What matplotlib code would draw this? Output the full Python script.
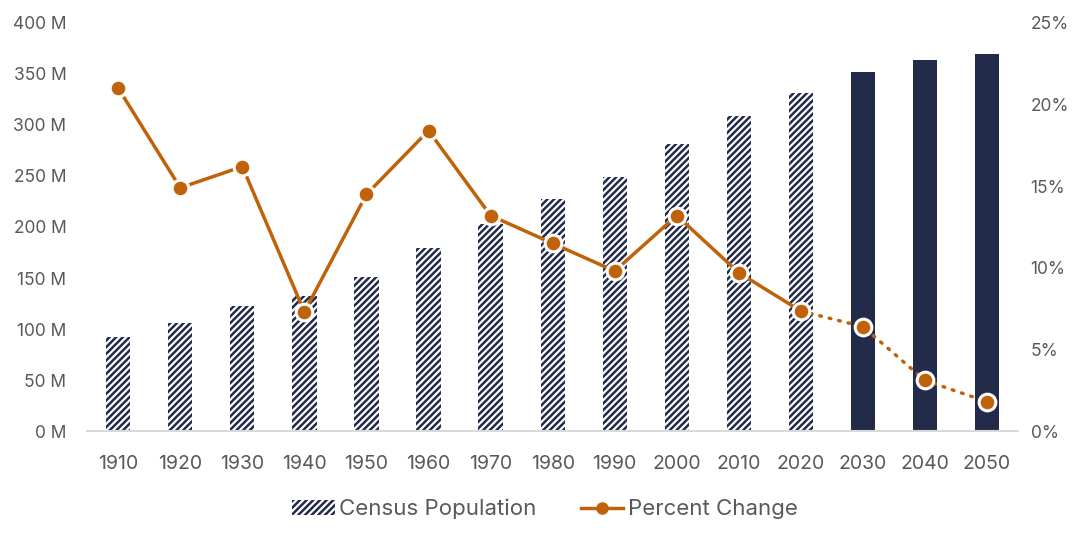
import matplotlib
matplotlib.use("Agg")
import matplotlib.pyplot as plt
from matplotlib.patches import Patch
from matplotlib.lines import Line2D
from matplotlib.ticker import FuncFormatter

years = ["1910", "1920", "1930", "1940", "1950", "1960", "1970", "1980",
         "1990", "2000", "2010", "2020", "2030", "2040", "2050"]
population_m = [92, 106, 123, 132, 151, 179, 203, 227, 249, 281, 309, 331, 352, 364, 370]
percent_change = [21.0, 14.9, 16.2, 7.3, 14.5, 18.4, 13.2, 11.5, 9.8, 13.2, 9.7, 7.35, 6.4, 3.1, 1.8]
n_census = 12  # first 12 are census, rest projections

navy = "#232B4A"
orange = "#C0620A"
grey = "#595959"

plt.rcParams['font.family'] = ['Inter', 'DejaVu Sans']
plt.rcParams['hatch.linewidth'] = 1.8
plt.rcParams['hatch.color'] = navy

fig = plt.figure(figsize=(10.9, 5.45), dpi=100)
ax = fig.add_axes([0.08, 0.209, 0.854, 0.749])
ax2 = ax.twinx()

x = list(range(len(years)))
for i, v in enumerate(population_m):
    if i < n_census:
        ax.bar(i, v, width=0.39, color="white", edgecolor=navy, hatch="/////", linewidth=0)
    else:
        ax.bar(i, v, width=0.39, color=navy, linewidth=0)

ax.set_ylim(0, 400)
ax.set_xlim(-0.5, 14.5)
ax.set_yticks(range(0, 401, 50))
ax.yaxis.set_major_formatter(FuncFormatter(lambda v, p: f"{int(v)} M"))
ax.set_xticks(x)
ax.set_xticklabels(years)

ax2.set_ylim(0, 25)
ax2.set_yticks(range(0, 26, 5))
ax2.yaxis.set_major_formatter(FuncFormatter(lambda v, p: f"{int(v)}%"))

ax2.plot(x[:n_census], percent_change[:n_census], color=orange, lw=2.5, zorder=3)
ax2.plot(x[n_census - 1:], percent_change[n_census - 1:], color=orange, lw=2.5,
         linestyle=(0, (0.5, 2.3)), dash_capstyle="round", zorder=3)
ax2.plot(x, percent_change, linestyle="none", marker="o", markersize=12,
         markerfacecolor=orange, markeredgecolor="white", markeredgewidth=2.2, zorder=4)

for a in (ax, ax2):
    for s in a.spines.values():
        s.set_visible(False)
    a.tick_params(length=0, labelsize=12.5, labelcolor=grey)
ax.spines['bottom'].set_visible(True)
ax.spines['bottom'].set_color("#D9D9D9")
ax.spines['bottom'].set_linewidth(1.5)
ax.tick_params(axis='y', pad=15)
ax.tick_params(axis='x', pad=17, labelsize=14)
ax2.tick_params(axis='y', pad=9)

handles = [Patch(facecolor="white", edgecolor=navy, hatch="/////", linewidth=0),
           Line2D([0], [0], color=orange, lw=2.5, marker="o", markersize=8,
                  markerfacecolor=orange, markeredgecolor=orange)]
fig.legend(handles, ["Census Population", "Percent Change"], loc="center",
           bbox_to_anchor=(0.5, 0.066), ncol=2, frameon=False, fontsize=16,
           labelcolor=grey, handlelength=1.9, handletextpad=0.2, columnspacing=2.0)

fig.savefig("out.png", dpi=100)
